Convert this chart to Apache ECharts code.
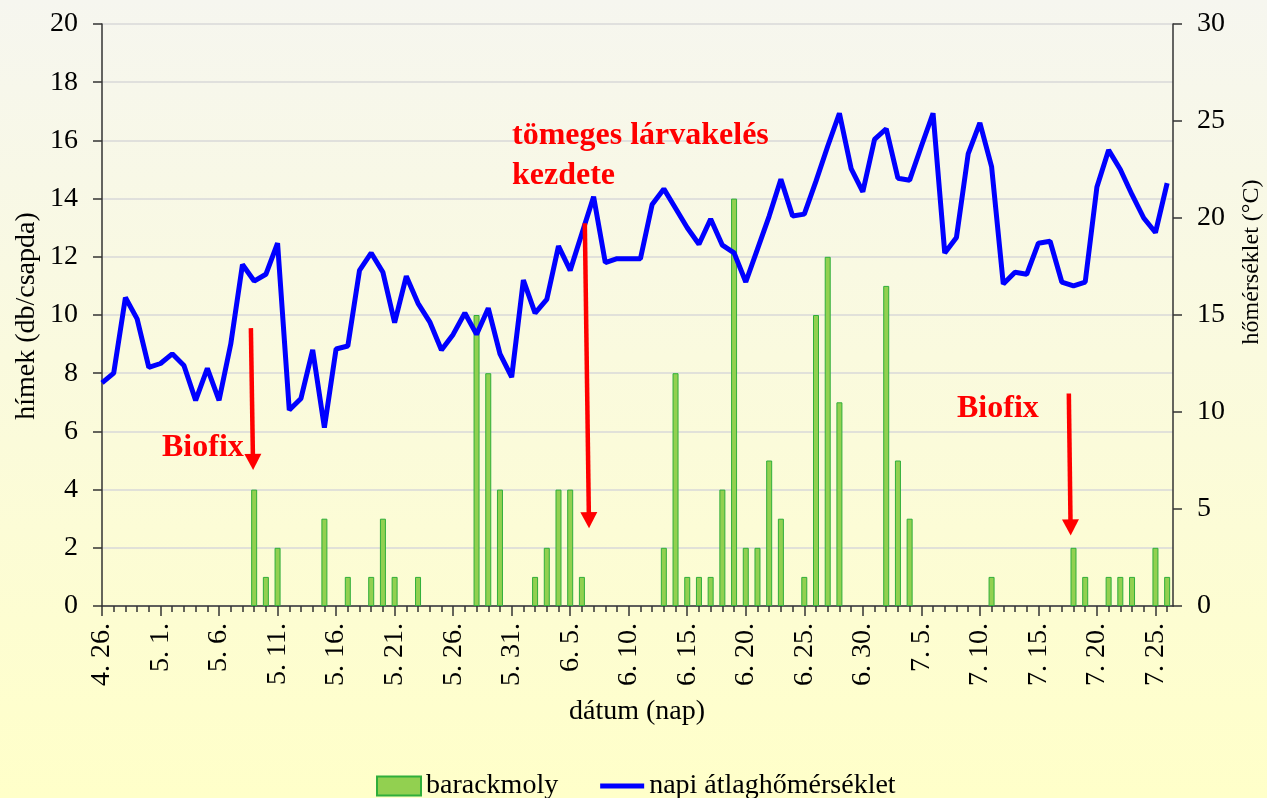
<!DOCTYPE html>
<html>
<head>
<meta charset="utf-8">
<script src="https://cdn.jsdelivr.net/npm/echarts@6/dist/echarts.min.js"></script>
<style>
html,body{margin:0;padding:0;background:#fbfbe0;}
#chart{width:1267px;height:798px;}
</style>
</head>
<body>
<div id="chart"></div>
<script>
// x tick labels (every 5th day, starting 4. 26.)
const tickLabels = ['4. 26.','5. 1.','5. 6.','5. 11.','5. 16.','5. 21.','5. 26.','5. 31.','6. 5.','6. 10.','6. 15.','6. 20.','6. 25.','6. 30.','7. 5.','7. 10.','7. 15.','7. 20.','7. 25.'];

// daily mean temperature (°C), 4.26 – 7.26
const temperature = [
  11.5, 12.0, 15.9, 14.8, 12.3, 12.5, 13.0, 12.4, 10.6, 12.25,
  10.6, 13.5, 17.6, 16.75, 17.1, 18.7, 10.1, 10.7, 13.2, 9.2,
  13.25, 13.4, 17.3, 18.2, 17.2, 14.6, 17.0, 15.6, 14.65, 13.2,
  14.0, 15.1, 14.0, 15.35, 13.0, 11.8, 16.8, 15.1, 15.8, 18.55,
  17.3, 19.2, 21.1, 17.7, 17.9, 17.9, 17.9, 20.7, 21.5, 20.5,
  19.5, 18.65, 19.95, 18.6, 18.2, 16.7, 18.4, 20.1, 22.0, 20.1,
  20.2, 21.9, 23.7, 25.4, 22.55, 21.35, 24.05, 24.6, 22.05, 21.95,
  23.7, 25.4, 18.2, 19.0, 23.3, 24.9, 22.65, 16.6, 17.2, 17.1,
  18.7, 18.8, 16.7, 16.5, 16.7, 21.6, 23.5, 22.5, 21.2, 20.0,
  19.25, 21.8
];

// trapped males per day (barackmoly)
const mothCounts = [
  0, 0, 0, 0, 0, 0, 0, 0, 0, 0,
  0, 0, 0, 4, 1, 2, 0, 0, 0, 3,
  0, 1, 0, 1, 3, 1, 0, 1, 0, 0,
  0, 0, 10, 8, 4, 0, 0, 1, 2, 4,
  4, 1, 0, 0, 0, 0, 0, 0, 2, 8,
  1, 1, 1, 4, 14, 2, 2, 5, 3, 0,
  1, 10, 12, 7, 0, 0, 0, 11, 5, 3,
  0, 0, 0, 0, 0, 0, 1, 0, 0, 0,
  0, 0, 0, 2, 1, 0, 1, 1, 1, 0,
  2, 1
];

const dayValues = temperature.map((t, i) => i);
const labelDays = tickLabels.map((l, i) => i * 5);

const serif = 'Liberation Serif';
const axisColor = '#333';
const chart = echarts.init(document.getElementById('chart'), null, {renderer: 'canvas'});

const arrowLine = {color: '#ff0000', width: 4.5, type: 'solid'};

const option = {
  animation: false,
  backgroundColor: {
    type: 'linear', x: 0, y: 0, x2: 0, y2: 1,
    colorStops: [{offset: 0, color: '#f6f6ef'}, {offset: 1, color: '#ffffc9'}]
  },
  grid: {left: 102, right: 94, top: 24, bottom: 192, containLabel: false},
  legend: {
    left: 371, top: 765,
    itemWidth: 44, itemHeight: 19, itemGap: 42,
    textStyle: {fontFamily: serif, fontSize: 28, color: '#000', lineHeight: 32},
    data: [
      {name: 'barackmoly', icon: 'rect'},
      {name: 'napi átlaghőmérséklet', icon: 'path://M0,0H44V5H0Z'}
    ]
  },
  xAxis: [
    {
      type: 'value', min: 0, max: 91.5, interval: 1,
      axisLine: {show: true, onZero: false, lineStyle: {color: axisColor, width: 1.5}},
      axisTick: {show: true, length: 6, customValues: dayValues, lineStyle: {color: axisColor, width: 1.5}},
      minorTick: {show: false},
      axisLabel: {
        show: true, rotate: 90, margin: 17, customValues: labelDays,
        fontFamily: serif, fontSize: 28, color: '#000',
        formatter: v => (v % 5 === 0 && tickLabels[v / 5] !== undefined) ? tickLabels[v / 5] : ''
      },
      splitLine: {show: false}
    },
    {
      type: 'value', min: 0, max: 91.5, interval: 5, position: 'bottom',
      axisLine: {show: false, onZero: false},
      axisTick: {show: true, length: 10, customValues: labelDays, lineStyle: {color: axisColor, width: 1.5}},
      minorTick: {show: false},
      axisLabel: {show: false},
      splitLine: {show: false}
    }
  ],
  yAxis: [
    {
      type: 'value', min: 0, max: 20, interval: 2, position: 'left',
      axisLine: {show: true, onZero: false, lineStyle: {color: axisColor, width: 1.5}},
      axisTick: {show: true, length: 9, lineStyle: {color: axisColor, width: 1.5}},
      minorTick: {show: false},
      axisLabel: {margin: 24, fontFamily: serif, fontSize: 28, color: '#000'},
      splitLine: {show: true, lineStyle: {color: '#d8d8d8', width: 1.5}}
    },
    {
      type: 'value', min: 0, max: 30, interval: 5, position: 'right',
      axisLine: {show: true, onZero: false, lineStyle: {color: axisColor, width: 1.5}},
      axisTick: {show: true, length: 9, lineStyle: {color: axisColor, width: 1.5}},
      minorTick: {show: false},
      axisLabel: {margin: 24, fontFamily: serif, fontSize: 28, color: '#000'},
      splitLine: {show: false}
    }
  ],
  series: [
    {
      name: 'barackmoly', type: 'bar', xAxisIndex: 0, yAxisIndex: 0,
      barWidth: 6,
      itemStyle: {color: '#92d050', borderColor: '#2fae3a', borderWidth: 1},
      data: mothCounts.map((c, i) => [i, c > 0 ? c : '-']),
      markLine: {
        silent: true, animation: false,
        symbol: ['none', 'triangle'], symbolSize: [17, 16],
        label: {show: false},
        lineStyle: arrowLine,
        emphasis: {disabled: true},
        data: [
          [{coord: [12.72, 9.55]}, {coord: [12.9, 4.95]}],
          [{coord: [41.25, 13.15]}, {coord: [41.6, 2.95]}],
          [{coord: [82.6, 7.3]}, {coord: [82.75, 2.7]}]
        ]
      }
    },
    {
      name: 'napi átlaghőmérséklet', type: 'line', xAxisIndex: 0, yAxisIndex: 1,
      showSymbol: false, symbol: 'none',
      lineStyle: {color: '#0000ff', width: 5},
      itemStyle: {color: '#0000ff'},
      data: temperature.map((t, i) => [i, t])
    }
  ],
  graphic: [
    {type: 'text', x: 27, y: 316, rotation: Math.PI / 2,
     style: {text: 'hímek (db/csapda)', font: '28px "Liberation Serif"', fill: '#000', align: 'center', verticalAlign: 'middle'}},
    {type: 'text', x: 1252, y: 262, rotation: Math.PI / 2,
     style: {text: 'hőmérséklet (°C)', font: '24px "Liberation Serif"', fill: '#000', align: 'center', verticalAlign: 'middle'}},
    {type: 'text', x: 637, y: 712,
     style: {text: 'dátum (nap)', font: '28px "Liberation Serif"', fill: '#000', align: 'center', verticalAlign: 'middle'}},
    {type: 'text', x: 162, y: 448, z: 10,
     style: {text: 'Biofix', font: 'bold 32px "Liberation Serif"', fill: '#ff0000', align: 'left', verticalAlign: 'middle'}},
    {type: 'text', x: 957, y: 409, z: 10,
     style: {text: 'Biofix', font: 'bold 32px "Liberation Serif"', fill: '#ff0000', align: 'left', verticalAlign: 'middle'}},
    {type: 'text', x: 512, y: 136, z: 10,
     style: {text: 'tömeges lárvakelés', font: 'bold 32px "Liberation Serif"', fill: '#ff0000', align: 'left', verticalAlign: 'middle'}},
    {type: 'text', x: 512, y: 176, z: 10,
     style: {text: 'kezdete', font: 'bold 32px "Liberation Serif"', fill: '#ff0000', align: 'left', verticalAlign: 'middle'}}
  ]
};
chart.setOption(option);
</script>
</body>
</html>
